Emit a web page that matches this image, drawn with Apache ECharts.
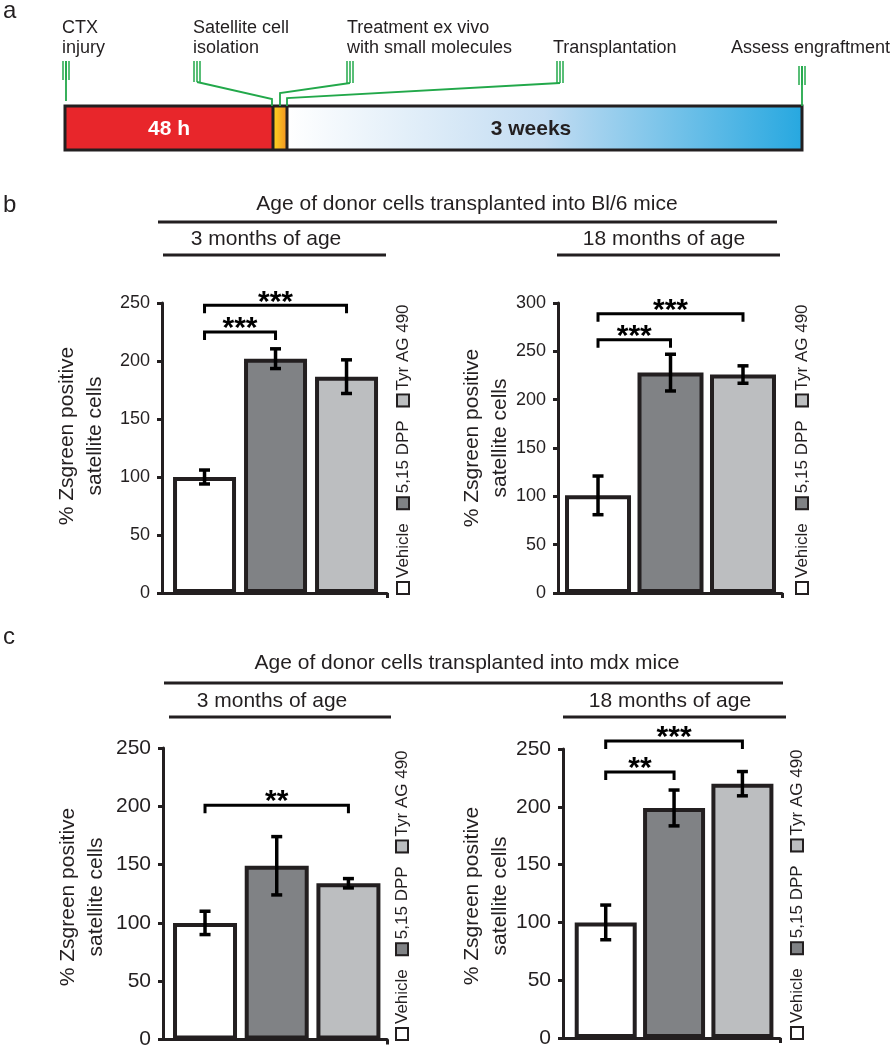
<!DOCTYPE html>
<html>
<head>
<meta charset="utf-8">
<script src="https://cdn.jsdelivr.net/npm/echarts@6/dist/echarts.min.js"></script>
<style>
html,body{margin:0;padding:0;background:#fff;}
#chart{width:892px;height:1050px;}
</style>
</head>
<body>
<div id="chart"></div>
<script>
// ---------- data ----------
const categories = ['Vehicle', '5,15 DPP', 'Tyr AG 490'];
const barColors = ['#ffffff', '#808285', '#bcbec0'];

const bl6Young = [100, 202, 186.5];
const bl6YoungErr = [6, 8.5, 14.5];
const bl6Old = [101, 228, 226];
const bl6OldErr = [20, 19, 9];
const mdxYoung = [100, 149, 134];
const mdxYoungErr = [10, 25, 4];
const mdxOld = [100, 199, 220];
const mdxOldErr = [15, 15.5, 10.5];

// significance brackets: [from category, to category, height, label]
const bl6YoungSig = [[1, 2, 225, '***'], [1, 3, 248, '***']];
const bl6OldSig = [[1, 2, 262, '***'], [1, 3, 289, '***']];
const mdxYoungSig = [[1, 3, 201, '**']];
const mdxOldSig = [[1, 2, 230, '**'], [1, 3, 257, '***']];

const yMaxes = [250, 300, 250, 250];
const yInterval = 50;

const yTitle = '% Zsgreen positive\nsatellite cells';
const groupTitles = ['Age of donor cells transplanted into Bl/6 mice', 'Age of donor cells transplanted into mdx mice'];
const ageTitles = ['3 months of age', '18 months of age'];

const timelineEvents = [
  'CTX\ninjury',
  'Satellite cell\nisolation',
  'Treatment ex vivo\nwith small molecules',
  'Transplantation',
  'Assess engraftment'
];
const timelineSegments = ['48 h', '', '3 weeks'];

// ---------- layout ----------
const FONT = '"Liberation Sans", Arial, sans-serif';
const INK = '#231f20';
const GREEN = '#22a84a';

const panels = [
  {vals: bl6Young, errs: bl6YoungErr, sig: bl6YoungSig, grid: {left: 162, top: 303, width: 225, height: 290}, xmin: 0.401, xmax: 3.57, bw: 63, fs: 18, legX: 403, legY: 593, titleX: 81, titleY: 436},
  {vals: bl6Old, errs: bl6OldErr, sig: bl6OldSig, grid: {left: 558, top: 303, width: 224, height: 290}, xmin: 0.448, xmax: 3.538, bw: 66, fs: 18, legX: 802, legY: 593, titleX: 486, titleY: 438},
  {vals: mdxYoung, errs: mdxYoungErr, sig: mdxYoungSig, grid: {left: 163, top: 748, width: 224, height: 292}, xmin: 0.414, xmax: 3.538, bw: 64, fs: 21, legX: 402, legY: 1039, titleX: 82, titleY: 897},
  {vals: mdxOld, errs: mdxOldErr, sig: mdxOldSig, grid: {left: 563, top: 749, width: 217, height: 289}, xmin: 0.375, xmax: 3.55, bw: 62, fs: 21, legX: 797, legY: 1038, titleX: 486, titleY: 896}
];

const chart = echarts.init(document.getElementById('chart'), null, {renderer: 'canvas'});

const grids = [], xAxes = [], yAxes = [], series = [];
panels.forEach((p, i) => {
  grids.push(Object.assign({containLabel: false}, p.grid));
  xAxes.push({
    type: 'value', gridIndex: i, min: p.xmin, max: p.xmax,
    axisLine: {show: true, onZero: false, lineStyle: {color: INK, width: 3}},
    axisTick: {show: true, customValues: [p.xmax], length: 5, lineStyle: {color: INK, width: 3}},
    axisLabel: {show: false}, splitLine: {show: false}
  });
  yAxes.push({
    type: 'value', gridIndex: i, min: 0, max: yMaxes[i], interval: yInterval,
    axisLine: {show: true, lineStyle: {color: INK, width: 3}},
    axisTick: {show: true, length: 5, lineStyle: {color: INK, width: 3}},
    axisLabel: {color: INK, fontSize: p.fs, fontFamily: FONT, margin: 12},
    splitLine: {show: false}
  });
  series.push({
    type: 'bar', xAxisIndex: i, yAxisIndex: i, barWidth: p.bw,
    itemStyle: {borderColor: INK, borderWidth: 4},
    data: p.vals.map((v, k) => ({value: [k + 1, v], itemStyle: {color: barColors[k]}})),
    z: 2
  });
  series.push({
    type: 'custom', xAxisIndex: i, yAxisIndex: i, clip: false, z: 5,
    data: p.vals.map((v, k) => [k + 1, v, p.errs[k]]),
    renderItem: function (params, api) {
      const x = api.value(0), m = api.value(1), e = api.value(2);
      const t = api.coord([x, m + e]), b = api.coord([x, m - e]);
      const w = 5.5, st = {stroke: '#000', lineWidth: 3.5};
      return {type: 'group', children: [
        {type: 'line', shape: {x1: t[0], y1: t[1], x2: b[0], y2: b[1]}, style: st},
        {type: 'line', shape: {x1: t[0] - w, y1: t[1], x2: t[0] + w, y2: t[1]}, style: st},
        {type: 'line', shape: {x1: b[0] - w, y1: b[1], x2: b[0] + w, y2: b[1]}, style: st}
      ]};
    }
  });
  series.push({
    type: 'custom', xAxisIndex: i, yAxisIndex: i, clip: false, z: 5,
    data: p.sig.map(s => [s[0], s[1], s[2], s[3]]),
    renderItem: function (params, api) {
      const a = api.coord([api.value(0), api.value(2)]);
      const b = api.coord([api.value(1), api.value(2)]);
      const drop = 8;
      const label = p.sig[params.dataIndex][3];
      return {type: 'group', children: [
        {type: 'polyline', shape: {points: [[a[0], a[1] + drop], [a[0], a[1]], [b[0], b[1]], [b[0], b[1] + drop]]},
          style: {stroke: '#000', lineWidth: 3, fill: null}},
        {type: 'text', x: (a[0] + b[0]) / 2, y: a[1] - 3,
          style: {text: label, fontSize: 30, fontWeight: 'bold', fontFamily: FONT, fill: '#000', align: 'center', verticalAlign: 'middle'}}
      ]};
    }
  });
});

// ---------- annotations (graphic) ----------
const graphic = [];
function txt(x, y, text, opt) {
  graphic.push({type: 'text', x: x, y: y, silent: true,
    style: Object.assign({text: text, fontFamily: FONT, fontSize: 21, fill: INK, align: 'center', verticalAlign: 'middle'}, opt || {})});
}
function hline(x1, x2, y, w) {
  graphic.push({type: 'line', silent: true, shape: {x1: x1, y1: y, x2: x2, y2: y}, style: {stroke: INK, lineWidth: w || 3}});
}

// panel letters
txt(3, 11, 'a', {fontSize: 24, align: 'left'});
txt(3, 205, 'b', {fontSize: 24, align: 'left'});
txt(3, 637, 'c', {fontSize: 24, align: 'left'});

// group headers
txt(467, 204, groupTitles[0]);
hline(158, 777, 222);
txt(266, 239, ageTitles[0]);
hline(163, 386, 255);
txt(664, 239, ageTitles[1]);
hline(557, 780, 255);

txt(467, 663, groupTitles[1]);
hline(164, 783, 683);
txt(272, 701, ageTitles[0]);
hline(169, 391, 717);
txt(670, 701, ageTitles[1]);
hline(563, 786, 717);

// y-axis titles and rotated legends
const legendRich = {
  s0: {width: 10, height: 10, backgroundColor: barColors[0], borderColor: INK, borderWidth: 2},
  s1: {width: 10, height: 10, backgroundColor: barColors[1], borderColor: INK, borderWidth: 2},
  s2: {width: 10, height: 10, backgroundColor: barColors[2], borderColor: INK, borderWidth: 2},
  t: {fontSize: 17, fontFamily: FONT, fill: INK, padding: [0, 0, 0, 5]},
  g: {width: 15}
};
const legendText = categories.map((c, k) => '{s' + k + '|}{t|' + c + '}').join('{g|}');
panels.forEach(p => {
  graphic.push({type: 'text', x: p.titleX, y: p.titleY, rotation: Math.PI / 2, silent: true,
    style: {text: yTitle, fontFamily: FONT, fontSize: 21, lineHeight: 28, fill: INK, align: 'center', verticalAlign: 'middle'}});
  graphic.push({type: 'text', x: p.legX, y: p.legY, rotation: Math.PI / 2, silent: true,
    style: {text: legendText, rich: legendRich, fontFamily: FONT, fontSize: 17, fill: INK, align: 'left', verticalAlign: 'middle'}});
});

// timeline (panel a)
const tl = {x0: 65, x1: 273, x2: 287, x3: 802, y0: 106, y1: 150};
graphic.push({type: 'rect', silent: true, shape: {x: tl.x0, y: tl.y0, width: tl.x1 - tl.x0, height: tl.y1 - tl.y0}, style: {fill: '#e8262b'}});
graphic.push({type: 'rect', silent: true, shape: {x: tl.x1, y: tl.y0, width: tl.x2 - tl.x1, height: tl.y1 - tl.y0},
  style: {fill: new echarts.graphic.LinearGradient(0, 0, 1, 0, [{offset: 0, color: '#fcd51f'}, {offset: 1, color: '#f39322'}])}});
graphic.push({type: 'rect', silent: true, shape: {x: tl.x2, y: tl.y0, width: tl.x3 - tl.x2, height: tl.y1 - tl.y0},
  style: {fill: new echarts.graphic.LinearGradient(0, 0, 1, 0, [{offset: 0, color: '#ffffff'}, {offset: 0.5, color: '#c2dcf2'}, {offset: 1, color: '#27a8e0'}])}});
graphic.push({type: 'rect', silent: true, shape: {x: tl.x0, y: tl.y0, width: tl.x3 - tl.x0, height: tl.y1 - tl.y0}, style: {fill: null, stroke: INK, lineWidth: 3}});
graphic.push({type: 'line', silent: true, shape: {x1: tl.x1, y1: tl.y0, x2: tl.x1, y2: tl.y1}, style: {stroke: INK, lineWidth: 3}});
graphic.push({type: 'line', silent: true, shape: {x1: tl.x2, y1: tl.y0, x2: tl.x2, y2: tl.y1}, style: {stroke: INK, lineWidth: 3}});
txt((tl.x0 + tl.x1) / 2, 129, timelineSegments[0], {fill: '#ffffff', fontWeight: 'bold', fontSize: 21});
txt(531, 129, timelineSegments[2], {fill: INK, fontWeight: 'bold', fontSize: 21});

// timeline labels (block centre; second lines align with single-line labels)
const evX = [62, 193, 347, 553, 731];
timelineEvents.forEach((e, k) => {
  const twoLines = e.indexOf('\n') >= 0;
  txt(evX[k], twoLines ? 38 : 48, e, {fontSize: 18, lineHeight: 20, align: 'left', verticalAlign: 'middle'});
});
// leader lines
function triple(cx, y0, len) {
  [-3, 0, 3].forEach(d => graphic.push({type: 'line', silent: true, shape: {x1: cx + d, y1: y0, x2: cx + d, y2: y0 + len}, style: {stroke: GREEN, lineWidth: 1.5}}));
}
function leader(points) {
  graphic.push({type: 'polyline', silent: true, shape: {points: points}, style: {stroke: GREEN, lineWidth: 1.8, fill: null}});
}
triple(66, 61, 19); leader([[66, 61], [66, 101]]);
triple(197, 61, 21); leader([[197, 82], [272, 99], [272, 106]]);
triple(350, 61, 22); leader([[350, 83], [280, 93], [280, 106]]);
triple(560, 61, 22); leader([[560, 83], [287, 98], [287, 106]]);
triple(802, 66, 19); leader([[802, 66], [802, 106]]);

chart.setOption({
  animation: false,
  backgroundColor: '#ffffff',
  grid: grids, xAxis: xAxes, yAxis: yAxes, series: series,
  graphic: {elements: graphic}
});
</script>
</body>
</html>
